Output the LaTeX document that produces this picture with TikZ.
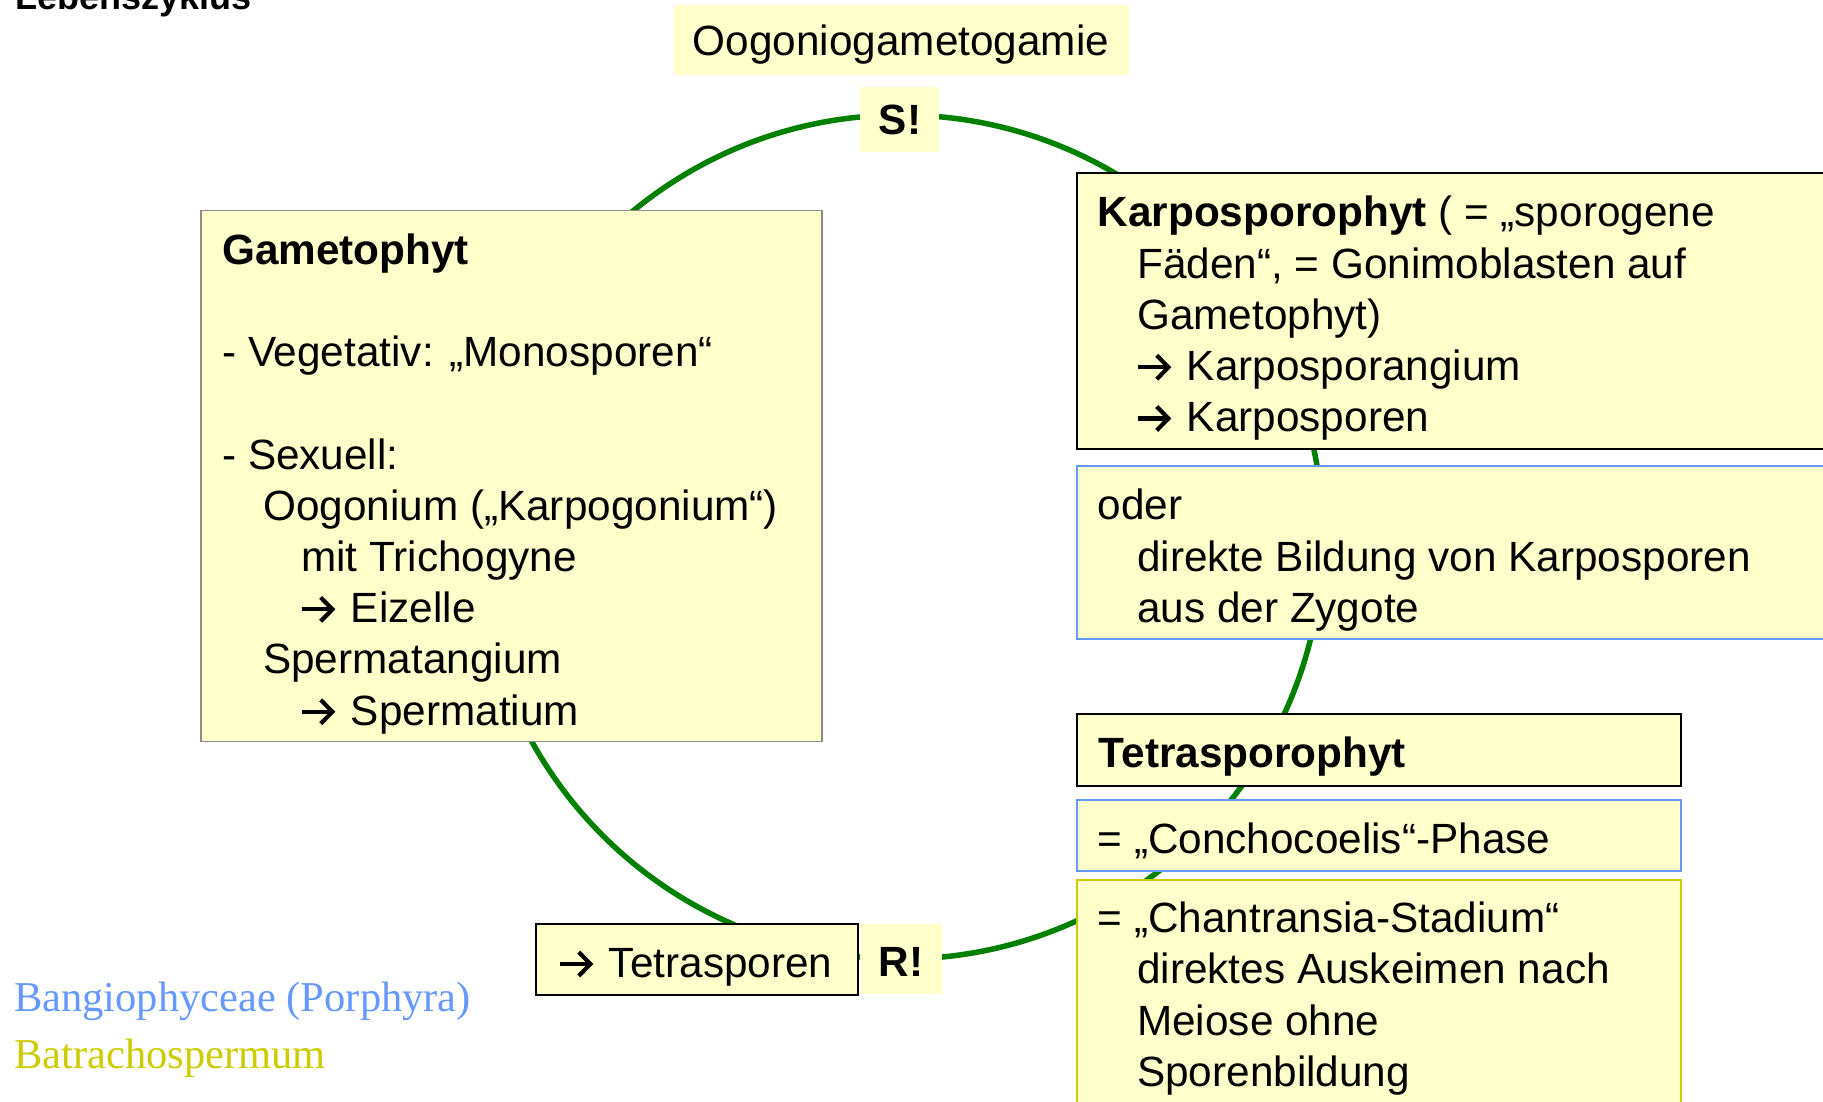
\documentclass[tikz,border=0pt]{standalone}
\usepackage{fontspec}
\setmainfont{Liberation Sans}
\newfontfamily\legendfont{Liberation Serif}
\newcommand\myarr{\tikz[x=1pt,y=1pt,baseline=0pt]{\useasboundingbox (0,0) rectangle (38,26);
  \draw[black, line width=4.2pt, line cap=butt] (0.5,13.3) -- (30,13.3);
  \draw[black, line width=4.2pt, line cap=butt, line join=miter] (19.5,25.2) -- (31.2,13.3) -- (19.5,1.4);}}
\newcommand\fsize{\fontsize{42.3}{51.2}\selectfont}
\definecolor{boxfill}{HTML}{FFFFCC}
\definecolor{cyclegreen}{HTML}{008000}
\definecolor{bluebord}{HTML}{6699FF}
\definecolor{yellowbord}{HTML}{CCCC00}
\begin{document}
\begin{tikzpicture}[x=1pt,y=-1pt,
  boxbase/.style={fill=boxfill, inner sep=0pt, outer sep=0pt, anchor=north west},
  blackbox/.style={boxbase, draw=black, line width=2.2pt},
  graybox/.style={boxbase, draw=black!45, line width=1.2pt},
  bluebox/.style={boxbase, draw=bluebord, line width=2pt},
  yellowbox/.style={boxbase, draw=yellowbord, line width=2pt},
  plainbox/.style={boxbase},
  txt/.style={anchor=north west, inner sep=0pt, align=left, font=\fsize},
  ctxt/.style={anchor=base, inner sep=0pt, font=\fsize},
  cycleline/.style={draw=cyclegreen, line width=5.5pt}
]
\useasboundingbox (0,0) rectangle (1823,1101);

% title (cut off at the top, as in the original)
\node[anchor=base west, inner sep=0pt, font=\fontsize{36}{43}\selectfont\bfseries] (title) at (15,9) {Lebenszyklus};

% life cycle
\coordinate (c) at (901,537);
\draw[cycleline] (c) circle[radius=422];

% boxes
\node[plainbox, minimum width=455pt, minimum height=69.5pt] (oogbox) at (674,5) {};
\node[plainbox, minimum width=79pt, minimum height=65pt] (sbox) at (860,87) {};
\node[plainbox, minimum width=82pt, minimum height=70pt] (rbox) at (860,924) {};
\node[graybox, minimum width=621pt, minimum height=531pt] (gambox) at (201,210.5) {};
\node[blackbox, minimum width=322pt, minimum height=71pt] (tsbox) at (536,924) {};
\node[blackbox, minimum width=770pt, minimum height=276pt] (karpbox) at (1076.6,173.2) {};
\node[bluebox, minimum width=770pt, minimum height=173pt] (oderbox) at (1076.6,466.2) {};
\node[blackbox, minimum width=604.5pt, minimum height=72pt] (tetrabox) at (1076.6,713.8) {};
\node[bluebox, minimum width=604.5pt, minimum height=71pt] (conchbox) at (1076.6,800) {};
\node[yellowbox, minimum width=604.5pt, minimum height=260pt] (chanbox) at (1076.6,880) {};

% texts
\node[ctxt] (oogtxt) at (901,55) {Oogoniogametogamie};
\node[ctxt, font=\fsize\bfseries] (stxt) at (900,134.5) {S!};
\node[ctxt, font=\fsize\bfseries] (rtxt) at (901,976.5) {R!};
\node[anchor=base west, inner sep=0pt, font=\fsize] (tstxt) at (559,977.3) {\myarr{} Tetrasporen};

\node[txt] (gamtxt) at (222,228.2) {\strut\textbf{Gametophyt}\\
\strut\\
- Vegetativ: „Monosporen“\\
\strut\\
- Sexuell:\\
\hspace*{41pt}Oogonium („Karpogonium“)\\
\hspace*{79pt}mit Trichogyne\\
\hspace*{79pt}\myarr{} Eizelle\\
\hspace*{41pt}Spermatangium\\
\hspace*{79pt}\myarr{} Spermatium};

\node[txt] (karptxt) at (1097.5,190.9) {\strut\textbf{Karposporophyt} ( = „sporogene\\
\hspace*{39.5pt}Fäden“, = Gonimoblasten auf\\
\hspace*{39.5pt}Gametophyt)\\
\hspace*{39.5pt}\myarr{} Karposporangium\\
\hspace*{39.5pt}\myarr{} Karposporen};

\node[txt] (odertxt) at (1097.5,483.9) {\strut oder\\
\hspace*{39.5pt}direkte Bildung von Karposporen\\
\hspace*{39.5pt}aus der Zygote};

\node[anchor=base west, inner sep=0pt, font=\fsize\bfseries] (tetratxt) at (1098.7,767.3) {Tetrasporophyt};
\node[anchor=base west, inner sep=0pt, font=\fsize] (conchtxt) at (1097.5,853.4) {= „Conchocoelis“-Phase};

\node[txt] (chantxt) at (1097.5,896.6) {\strut = „Chantransia-Stadium“\\
\hspace*{39.5pt}direktes Auskeimen nach\\
\hspace*{39.5pt}Meiose ohne\\
\hspace*{39.5pt}Sporenbildung};

% legend
\node[anchor=base west, inner sep=0pt, font=\legendfont\fontsize{42.5}{50}\selectfont, text=bluebord] (leg1) at (14,1011) {Bangiophyceae (Porphyra)};
\node[anchor=base west, inner sep=0pt, font=\legendfont\fontsize{42.5}{50}\selectfont, text=yellowbord] (leg2) at (14,1068) {Batrachospermum};
\end{tikzpicture}
\end{document}
